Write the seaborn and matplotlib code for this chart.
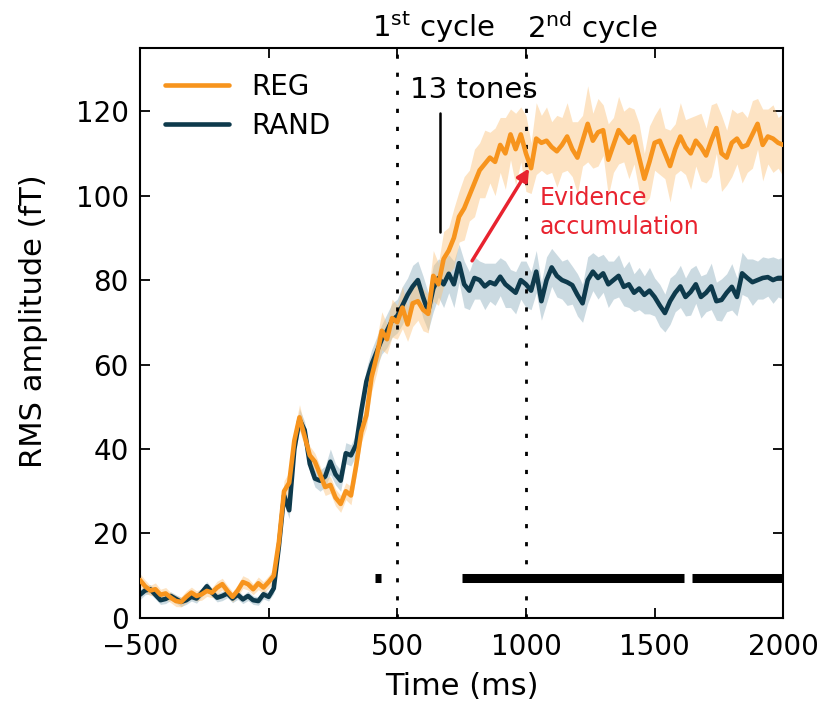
import numpy as np
import pandas as pd
import matplotlib
matplotlib.use("Agg")
import matplotlib.pyplot as plt
from matplotlib.lines import Line2D
import seaborn as sns

sns.set_style("ticks")
plt.rcParams["font.family"] = ["DejaVu Sans"]
plt.rcParams["xtick.direction"] = "in"
plt.rcParams["ytick.direction"] = "in"
for k in ["text.color", "axes.labelcolor", "xtick.color", "ytick.color"]:
    plt.rcParams[k] = "black"

# sample times (ms), 20 ms grid
time_ms = np.arange(-500, 2001, 20)

reg_mean = [
    9.0, 7.5, 6.5, 6.8, 5.5, 5.8, 4.8, 4.0, 3.8, 5.0,
    6.0, 5.2, 5.6, 6.4, 6.0, 7.2, 8.0, 6.4, 5.0, 6.5,
    8.5, 8.0, 6.8, 8.2, 7.2, 8.5, 10.0, 18.0, 30.0, 32.0,
    42.0, 47.5, 43.0, 38.5, 37.0, 34.0, 31.0, 31.5, 28.5, 27.0,
    30.0, 29.0, 36.0, 44.0, 48.0, 57.0, 62.0, 68.0, 66.0, 71.0,
    70.0, 73.5, 69.5, 74.5, 75.0, 73.0, 72.0, 81.0, 79.0, 85.0,
    87.0, 90.0, 95.0, 97.0, 100.0, 103.0, 106.0, 107.5, 109.0, 108.0,
    112.0, 110.0, 114.5, 111.0, 114.5, 110.0, 106.5, 113.5, 112.5, 113.0,
    111.5, 110.5, 112.0, 114.0, 111.0, 109.0, 113.0, 117.0, 113.0, 115.0,
    115.5, 108.5, 112.0, 115.5, 114.0, 112.5, 114.0, 109.0, 104.0, 108.0,
    112.5, 113.0, 110.0, 107.0, 111.0, 114.0, 111.5, 110.0, 113.0, 111.5,
    109.5, 113.0, 116.0, 110.0, 109.0, 112.5, 113.5, 111.5, 112.0, 114.5,
    117.0, 112.0, 114.0, 113.5, 112.5, 112.0,
]
reg_sem = [
    1.5, 1.5, 1.2, 1.5, 1.3, 1.4, 1.2, 1.3, 1.2, 1.4,
    1.3, 1.2, 1.4, 1.3, 1.2, 1.5, 1.4, 1.3, 1.2, 1.4,
    1.5, 1.4, 1.3, 1.5, 1.4, 1.5, 1.6, 2.0, 2.5, 2.5,
    2.5, 3.0, 2.5, 2.2, 2.0, 2.0, 2.0, 2.0, 2.0, 2.0,
    2.0, 2.2, 2.5, 2.5, 3.0, 3.5, 4.0, 4.5, 3.5, 4.5,
    4.0, 5.0, 4.0, 5.5, 4.5, 5.0, 4.5, 6.0, 5.0, 6.5,
    5.5, 7.0, 6.0, 7.5, 6.0, 8.0, 6.5, 8.0, 6.0, 8.0,
    6.5, 8.5, 6.0, 8.5, 6.5, 9.0, 6.0, 8.5, 6.5, 8.0,
    6.0, 8.5, 6.5, 8.0, 6.5, 8.5, 6.0, 9.0, 6.5, 8.0,
    6.0, 8.5, 6.5, 8.0, 6.0, 8.5, 6.5, 8.0, 6.0, 8.5,
    6.5, 8.0, 6.0, 8.5, 6.0, 8.0, 6.5, 8.5, 6.0, 8.0,
    6.5, 8.5, 6.0, 9.0, 6.5, 8.0, 6.0, 8.5, 6.5, 8.0,
    6.0, 8.5, 6.5, 8.0, 6.0, 7.5,
]
rand_mean = [
    5.5, 6.5, 6.8, 5.5, 4.2, 4.5, 5.2, 4.5, 3.8, 4.2,
    5.0, 4.6, 6.0, 7.5, 6.0, 4.8, 5.2, 5.8, 4.6, 5.5,
    4.4, 5.2, 4.2, 4.0, 5.6, 5.0, 7.0, 17.0, 29.0, 25.5,
    40.0, 47.0, 44.5, 36.5, 33.0, 32.5, 33.5, 37.0, 34.0, 32.5,
    39.0, 38.5, 41.0, 49.0, 56.0, 60.0, 63.0, 66.0, 68.0, 70.5,
    71.5, 74.0, 76.5, 78.5, 80.0, 76.0, 72.5, 78.0, 80.5, 79.0,
    81.5, 79.0, 84.0, 79.0, 77.5, 80.5, 80.0, 78.5, 79.5, 79.0,
    80.8, 79.0, 78.0, 77.0, 80.0, 79.0, 77.5, 82.0, 75.0, 80.0,
    83.0, 81.0, 80.0, 79.5, 78.8, 76.5, 74.5, 80.0, 82.0, 80.5,
    81.6, 79.0, 80.0, 81.0, 78.4, 79.0, 77.0, 78.0, 76.5, 77.5,
    76.0, 74.0, 72.2, 75.0, 77.0, 78.5, 76.0, 77.2, 79.0, 76.0,
    77.0, 78.5, 75.0, 75.3, 77.0, 78.4, 76.0, 81.6, 80.5, 79.5,
    80.0, 80.5, 80.7, 80.0, 80.5, 80.5,
]
rand_sem = [
    1.2, 1.0, 1.1, 1.0, 1.0, 1.1, 1.0, 1.0, 1.1, 1.0,
    1.0, 1.1, 1.0, 1.1, 1.0, 1.0, 1.1, 1.0, 1.0, 1.1,
    1.0, 1.1, 1.0, 1.0, 1.1, 1.0, 1.2, 1.5, 2.0, 2.0,
    2.0, 2.5, 2.0, 2.0, 2.0, 2.5, 2.5, 3.0, 2.5, 2.5,
    2.5, 2.5, 2.5, 3.0, 3.0, 3.5, 3.5, 3.5, 4.0, 4.0,
    4.0, 4.5, 4.0, 5.0, 4.5, 5.0, 4.5, 5.5, 4.5, 5.5,
    4.5, 5.5, 4.5, 5.5, 4.5, 5.0, 4.5, 5.5, 4.5, 5.0,
    4.5, 5.5, 4.5, 5.0, 4.5, 5.5, 4.5, 5.0, 4.5, 5.5,
    4.5, 5.0, 4.5, 5.5, 4.5, 5.0, 4.5, 5.5, 4.5, 5.0,
    4.5, 5.5, 4.5, 5.0, 4.5, 5.5, 4.5, 5.0, 4.5, 5.5,
    4.5, 5.0, 4.5, 5.5, 4.5, 5.0, 4.5, 5.5, 4.5, 5.0,
    4.5, 5.5, 4.5, 5.0, 4.5, 5.5, 4.5, 5.0, 4.5, 5.5,
    4.5, 5.0, 4.5, 5.5, 4.5, 5.0,
]

# significant clusters (ms)
sig_start = [414, 750, 1645]
sig_end = [436, 1615, 2000]
sig_level = 9.5

REG_COLOR = "#f7941d"
RAND_COLOR = "#0e3a4c"

df = pd.concat([
    pd.DataFrame({"time": time_ms, "amp": reg_mean, "sem": reg_sem, "cond": "REG"}),
    pd.DataFrame({"time": time_ms, "amp": rand_mean, "sem": rand_sem, "cond": "RAND"}),
])

fig = plt.figure(figsize=(8.28, 7.03), dpi=100)
ax = fig.add_axes([0.169, 0.121, 0.777, 0.811])

ax.fill_between(time_ms, np.array(rand_mean) - np.array(rand_sem),
                np.array(rand_mean) + np.array(rand_sem),
                color="#7fa3b5", alpha=0.4, lw=0)
ax.fill_between(time_ms, np.array(reg_mean) - np.array(reg_sem),
                np.array(reg_mean) + np.array(reg_sem),
                color="#fbc27a", alpha=0.45, lw=0)

sns.lineplot(data=df, x="time", y="amp", hue="cond", hue_order=["RAND", "REG"],
             palette={"REG": REG_COLOR, "RAND": RAND_COLOR},
             errorbar=None, lw=3.3, ax=ax, legend=False)
ax.lines[1].set_zorder(3)

ax.hlines([sig_level] * len(sig_start), sig_start, sig_end, color="black", lw=6.5)

ax.axvline(500, color="black", ls=(0, (1.5, 5)), lw=2.0)
ax.axvline(1000, color="black", ls=(0, (1.5, 5)), lw=2.0)

# 13 tones marker
ax.plot([667, 667], [91.5, 119.5], color="black", lw=1.8)
ax.text(548, 125, "13 tones", fontsize=21, va="center", ha="left")

ax.annotate("", xy=(1018, 107), xytext=(785, 84),
            arrowprops=dict(arrowstyle="-|>", color="#e8232f", lw=2.5,
                            mutation_scale=18))
ax.text(1055, 96, "Evidence\naccumulation", color="#e8232f", fontsize=17,
        va="center", ha="left", linespacing=1.3)

trans = ax.get_xaxis_transform()
ax.text(403, 1.035, r"1$^{\rm st}$ cycle", transform=trans, fontsize=21,
        ha="left", va="center")
ax.text(1003, 1.035, r"2$^{\rm nd}$ cycle", transform=trans, fontsize=21,
        ha="left", va="center")

handles = [Line2D([], [], color=REG_COLOR, lw=3.3),
           Line2D([], [], color=RAND_COLOR, lw=3.3)]
ax.legend(handles, ["REG", "RAND"], loc="upper left", frameon=False,
          fontsize=20, handlelength=2.3, handletextpad=0.8,
          labelspacing=0.4, borderaxespad=0.5)

ax.set_xlim(-500, 2000)
ax.set_ylim(0, 135)
ax.set_xticks([-500, 0, 500, 1000, 1500, 2000])
ax.set_yticks([0, 20, 40, 60, 80, 100, 120])
ax.tick_params(axis="both", labelsize=20, length=7, width=1.3,
               top=True, right=True)
ax.tick_params(axis="x", pad=11)
ax.tick_params(axis="y", pad=8)
for s in ax.spines.values():
    s.set_linewidth(1.5)
    s.set_color("black")
ax.set_xlabel("Time (ms)", fontsize=22, labelpad=8)
ax.set_ylabel("RMS amplitude (fT)", fontsize=22)
ax.yaxis.set_label_coords(-0.143, 0.52)

fig.savefig("out.png", dpi=100)
